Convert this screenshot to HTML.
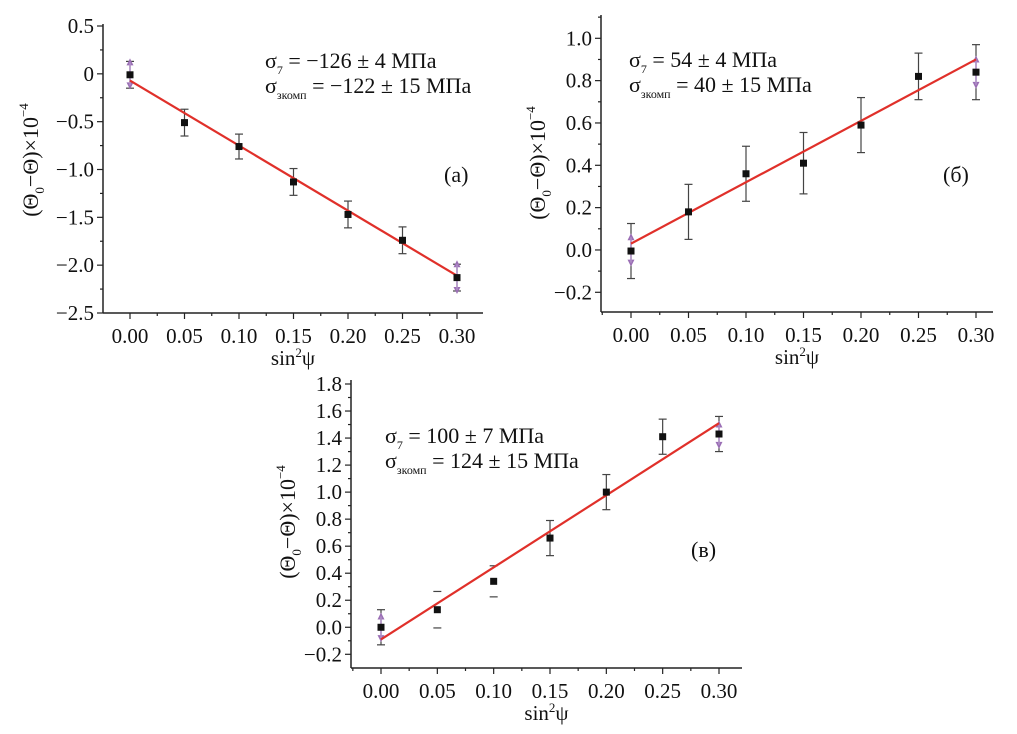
<!DOCTYPE html>
<html><head><meta charset="utf-8"><style>
body{margin:0;background:#fff;width:1017px;height:734px;overflow:hidden}
svg{display:block}
text{font-family:"Liberation Serif",serif;fill:#111}
</style></head><body>
<svg id="fig" width="1017" height="734"></svg>
<script>
const xCats = [0, 0.05, 0.10, 0.15, 0.20, 0.25, 0.30];
const xTickLabels = ["0.00","0.05","0.10","0.15","0.20","0.25","0.30"];
// panel a
const aVals = [-0.01, -0.51, -0.76, -1.13, -1.47, -1.74, -2.13];
const aErr = [0.14, 0.14, 0.13, 0.14, 0.14, 0.14, 0.14];
const aFit = [-0.07, -2.11];
const aTriX = [0, 0, 0.30, 0.30];
const aTriY = [0.12, -0.12, -1.99, -2.26];
const aYTicks = [0.5, 0, -0.5, -1.0, -1.5, -2.0, -2.5];
const aYTickLabels = ["0.5","0","\u22120.5","\u22121.0","\u22121.5","\u22122.0","\u22122.5"];
// panel b
const bVals = [-0.005, 0.18, 0.36, 0.41, 0.59, 0.82, 0.84];
const bErr = [0.13, 0.13, 0.13, 0.145, 0.13, 0.11, 0.13];
const bFit = [0.03, 0.90];
const bTriX = [0, 0, 0.30, 0.30];
const bTriY = [0.06, -0.06, 0.90, 0.78];
const bYTicks = [1.0, 0.8, 0.6, 0.4, 0.2, 0.0, -0.2];
const bYTickLabels = ["1.0","0.8","0.6","0.4","0.2","0.0","\u22120.2"];
// panel c
const cVals = [0.0, 0.13, 0.34, 0.66, 1.0, 1.41, 1.43];
const cErr = [0.13, 0.135, 0.115, 0.13, 0.13, 0.13, 0.13];
const cFit = [-0.09, 1.51];
const cTriX = [0, 0, 0.30, 0.30];
const cTriY = [0.08, -0.08, 1.50, 1.35];
const cYTicks = [1.8, 1.6, 1.4, 1.2, 1.0, 0.8, 0.6, 0.4, 0.2, 0.0, -0.2];
const cYTickLabels = ["1.8","1.6","1.4","1.2","1.0","0.8","0.6","0.4","0.2","0.0","\u22120.2"];

const NS = "http://www.w3.org/2000/svg";
const svg = document.getElementById('fig');
function mk(tag, attrs, parent){const e=document.createElementNS(NS,tag);for(const k in attrs)e.setAttribute(k,attrs[k]);(parent||svg).appendChild(e);return e;}

function panel(p){
  const g = mk('g',{});
  
  
  const sx = v => p.x0 + (v - 0) / 0.30 * (p.x30 - p.x0);
  const sy = v => p.yA + (v - p.vA) / (p.vB - p.vA) * (p.yB - p.yA);
  const ax = mk('line',{x1:p.left,y1:p.bottom,x2:p.left,y2:p.top,stroke:'#222','stroke-width':1.5},g);
  
  
  const bx = mk('line',{x1:p.left,y1:p.bottom,x2:p.right,y2:p.bottom,stroke:'#222','stroke-width':1.5},g);
  
  
  for(let v=-0.025; v<=0.326; v+=0.025){
    const X=sx(v); if(X<p.left+1||X>p.right) continue;
    const major = Math.abs(Math.round(v/0.05)*0.05 - v) < 1e-6;
    mk('line',{x1:X,y1:p.bottom,x2:X,y2:p.bottom+(major?6:3),stroke:'#222','stroke-width':1.2},g);
  }
  xCats.forEach((v,i)=>{
    const t = mk('text',{x:sx(v),y:p.bottom+30,'text-anchor':'middle','font-size':21},g);
    t.textContent = xTickLabels[i];
    
    
  });
  const step = p.yTicks[0]-p.yTicks[1];
  p.yTicks.forEach((v,i)=>{
    const Y=sy(v);
    mk('line',{x1:p.left,y1:Y,x2:p.left-6,y2:Y,stroke:'#222','stroke-width':1.2},g);
    const Ym=sy(v-step/2);
    if(Ym<p.bottom-1) mk('line',{x1:p.left,y1:Ym,x2:p.left-3,y2:Ym,stroke:'#222','stroke-width':1.2},g);
    if(i===0){const Yt=sy(v+step/2); if(Yt>p.top) mk('line',{x1:p.left,y1:Yt,x2:p.left-3,y2:Yt,stroke:'#222','stroke-width':1.2},g);}
    const t = mk('text',{x:p.left-9,y:Y+7,'text-anchor':'end','font-size':21},g);
    t.textContent = p.yLabels[i];
    
    
  });
  const xt = mk('text',{x:(p.left+p.right)/2,y:p.bottom+52,'text-anchor':'middle','font-size':21},g);
  xt.innerHTML = 'sin<tspan font-size="13" dy="-8">2</tspan><tspan dy="8">ψ</tspan>';
  
  
  const yt = mk('text',{x:0,y:0,'text-anchor':'middle','font-size':22,transform:`translate(${p.left-p.ytOff},${p.ytY}) rotate(-90)`},g);
  yt.innerHTML = '(Θ<tspan font-size="13" dy="6">0</tspan><tspan dy="-6">−Θ)×10</tspan><tspan font-size="13" dy="-10">−4</tspan>';
  
  
  xCats.forEach((v,i)=>{
    const X=sx(v), Yu=sy(p.vals[i]+p.err[i]), Yd=sy(p.vals[i]-p.err[i]);
    if(!(p.noStem && p.noStem.includes(i))){
      const e = mk('line',{x1:X,y1:Yu,x2:X,y2:Yd,stroke:'#444','stroke-width':1.2},g);
      
      
    }
    mk('line',{x1:X-4,y1:Yu,x2:X+4,y2:Yu,stroke:'#444','stroke-width':1.2},g);
    mk('line',{x1:X-4,y1:Yd,x2:X+4,y2:Yd,stroke:'#444','stroke-width':1.2},g);
  });
  p.triX.forEach((v,i)=>{
    const X=sx(v),Y=sy(p.triY[i]); const up = i%2===0;
    const tr = mk('path',{d: up?`M${X-3.5},${Y+3} L${X+3.5},${Y+3} L${X},${Y-4} Z`:`M${X-3.5},${Y-3} L${X+3.5},${Y-3} L${X},${Y+4} Z`,fill:'#9b6fb5'},g);
    
    
    mk('line',{x1:X,y1:Y,x2:X,y2:sy((p.triY[(i<2?0:2)]+p.triY[1+(i<2?0:2)])/2),stroke:'#b090c8','stroke-width':1.5},g);
  });
  const fl = mk('line',{x1:sx(0),y1:sy(p.fit[0]),x2:sx(0.30),y2:sy(p.fit[1]),stroke:'#e0302a','stroke-width':2.2},g);
  
  
  xCats.forEach((v,i)=>{
    const r = mk('rect',{x:sx(v)-3.5,y:sy(p.vals[i])-3.5,width:7,height:7,fill:'#111'},g);
    
    
  });
  const a1 = mk('text',{x:p.annX,y:p.annY,'font-size':22},g);
  a1.innerHTML = 'σ<tspan font-size="12" dy="6">7</tspan><tspan dy="-6"> = ' + p.s7 + '</tspan>';
  
  
  const a2 = mk('text',{x:p.annX,y:p.annY+25,'font-size':22},g);
  a2.innerHTML = 'σ<tspan font-size="12" dy="6">зкомп</tspan><tspan dy="-6"> = ' + p.s3 + '</tspan>';
  
  
  const pl = mk('text',{x:p.plX,y:p.plY,'font-size':22},g);
  pl.textContent = p.label;
  
  
}

panel({name:'panel-a',left:103,right:483,top:24,bottom:313,x0:130,x30:457,yA:26,vA:0.5,yB:313,vB:-2.5,
  vals:aVals,err:aErr,fit:aFit,triX:aTriX,triY:aTriY,yTicks:aYTicks,yLabels:aYTickLabels,ytOff:65,ytY:160,
  annX:265,annY:68,s7:'−126 ± 4 МПа',s3:'−122 ± 15 МПа',label:'(а)',plX:444,plY:182});
panel({name:'panel-b',left:601,right:993,top:15,bottom:312,x0:631,x30:976,yA:38.3,vA:1.0,yB:292.3,vB:-0.2,
  vals:bVals,err:bErr,fit:bFit,triX:bTriX,triY:bTriY,yTicks:bYTicks,yLabels:bYTickLabels,ytOff:56,ytY:163,
  annX:629,annY:67,s7:'54 ± 4 МПа',s3:'40 ± 15 МПа',label:'(б)',plX:943,plY:182});
panel({name:'panel-c',left:351,right:742,top:380,bottom:668,x0:381,x30:719,yA:384,vA:1.8,yB:654.3,vB:-0.2,
  vals:cVals,err:cErr,fit:cFit,triX:cTriX,triY:cTriY,yTicks:cYTicks,yLabels:cYTickLabels,ytOff:56,ytY:522,noStem:[1,2],
  annX:385,annY:443,s7:'100 ± 7 МПа',s3:'124 ± 15 МПа',label:'(в)',plX:691,plY:557});
</script>
</body></html>
